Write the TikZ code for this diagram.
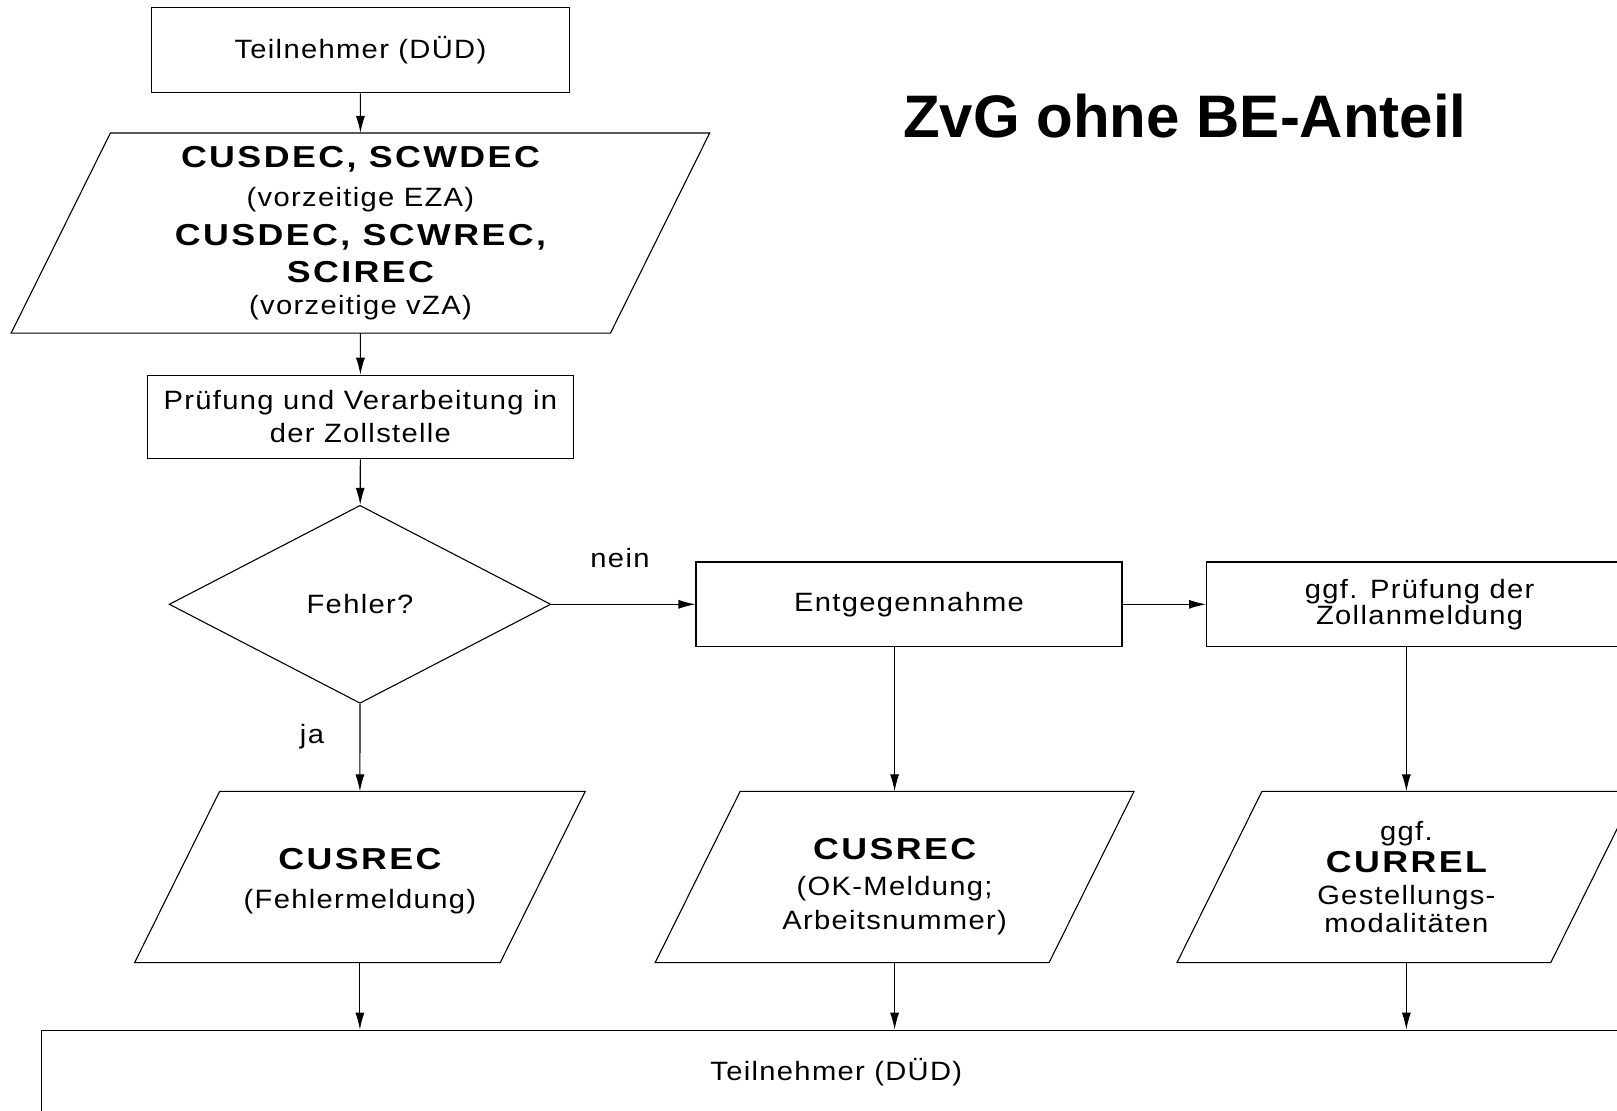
\documentclass[tikz,border=0pt]{standalone}
\usepackage{fontspec}
\setmainfont[LetterSpace=5,FakeStretch=1.1]{Liberation Sans}
\newfontfamily\kopffont[LetterSpace=8,FakeStretch=1.18]{Liberation Sans}
\newfontfamily\titelfont{Liberation Sans}
\usetikzlibrary{arrows.meta}
\usetikzlibrary{shapes.geometric, calc}

\newcommand{\msg}[1]{{\kopffont\bfseries\fontsize{30.3}{36}\selectfont #1}}

\begin{document}
\begin{tikzpicture}[x=1pt,y=-1pt,line width=1.1pt,>={Latex[length=17pt,width=9pt]}]
            \tikzstyle{kasten} = [rectangle, draw, minimum width=426pt, minimum height=84.6pt, inner sep=0pt, align=center]
            \tikzstyle{daten}  = [rectangle, minimum height=170.2pt, inner sep=0pt, align=center]
            \tikzstyle{frage}  = [diamond, draw, minimum width=381.6pt, minimum height=198pt, inner sep=0pt]

            \tikzstyle{every node}=[font=\fontsize{26.5}{30}\selectfont]

            \useasboundingbox (0,0) rectangle (1617,1111);
            \clip (0,0) rectangle (1617,1111);

            % Linke Spalte .........................
            \node[kasten, minimum width=417.7pt, minimum height=85.6pt] (dued1) at (360.4,50) {Teilnehmer (DÜD)};
            \node[daten, minimum width=598.2pt, minimum height=199pt] (zanm) at (360.45,233) {\msg{CUSDEC, SCWDEC}\\[9.6pt] (vorzeitige EZA)\\[9pt] \msg{CUSDEC, SCWREC,}\\[6.4pt] \msg{SCIREC}\\[2.6pt] (vorzeitige vZA)};
            \node[kasten, minimum height=83.5pt] (pruef) at (360.4,417) {Prüfung und Verarbeitung in\\[3pt] der Zollstelle};
            \node[frage] (fehler) at (360,604.3) {Fehler?};

            % Rechte Zeile .........................
            \node[kasten] (annahme) at (909,604.3) {Entgegennahme};
            \node[kasten] (zollpr) at (1419.6,604.3) {ggf. Prüfung der\\[-4pt] Zollanmeldung};

            % Nachrichten .........................
            \node[daten, minimum width=364.5pt] (fmeld) at (359.9,877) {\msg{\rule{0pt}{30pt}CUSREC}\\[8.6pt] (Fehlermeldung)};
            \node[daten, minimum width=392.8pt] (okmeld) at (894.6,877) {\msg{\rule{0pt}{40pt}CUSREC}\\[6pt] (OK-Meldung;\\[4pt] Arbeitsnummer)};
            \node[daten, minimum width=372.7pt] (currel) at (1406.35,877) {ggf.\\[1.6pt] \msg{CURREL}\\[1.7pt] Gestellungs-\\[-2pt] modalitäten};

            \foreach \knoten/\s in {zanm/49.6, fmeld/42.5, okmeld/42.5, currel/42.5}
                \draw ($(\knoten.north west)+(\s,0)$) -- ($(\knoten.north east)+(\s,0)$) -- ($(\knoten.south east)-(\s,0)$) -- ($(\knoten.south west)-(\s,0)$) -- cycle;

            \node[kasten, minimum width=1590pt] (dued2) at (836.3,1072.5) {Teilnehmer (DÜD)};

            \node[font=\titelfont\bfseries\fontsize{60}{70}\selectfont] (titel) at (1185,116.5) {ZvG ohne BE-Anteil};
            \node (nein) at (620,558) {nein};
            \node (ja) at (312,737) {ja};

            \draw[->] (dued1) -- (zanm);
            \draw[->] (zanm) -- (pruef);
            \draw[->] (pruef) -- (fehler);
            \draw[->] (fehler) -- (annahme);
            \draw[->] (annahme) -- (zollpr);
            \draw[->] (fehler) -- (fmeld);
            \draw[->] (annahme.south -| okmeld) -- (okmeld);
            \draw[->] (zollpr.south -| currel) -- (currel);

            \draw[->] (fmeld) -- (fmeld |- dued2.north);
            \draw[->] (okmeld) -- (okmeld |- dued2.north);
            \draw[->] (currel) -- (currel |- dued2.north);

        \end{tikzpicture}
\end{document}
